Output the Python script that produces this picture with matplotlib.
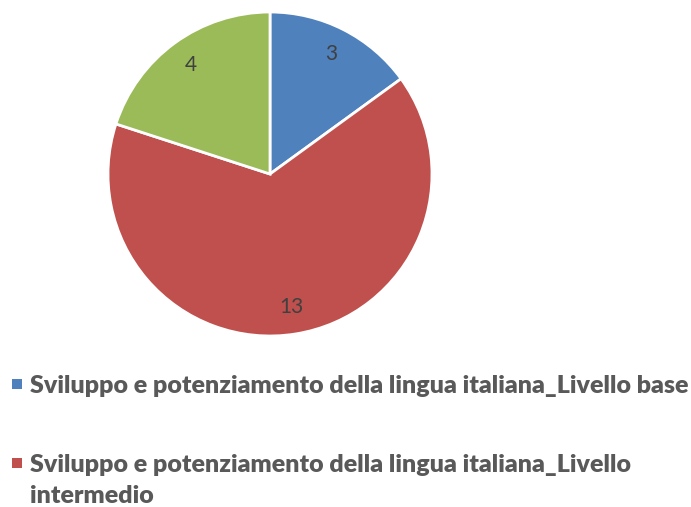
import matplotlib.pyplot as plt
from matplotlib.patches import Rectangle

labels = ["Sviluppo e potenziamento della lingua italiana_Livello base",
          "Sviluppo e potenziamento della lingua italiana_Livello\nintermedio",
          "Sviluppo e potenziamento della lingua italiana_Livello avanzato"]
values = [3, 13, 4]
colors = ["#4F81BD", "#C0504D", "#9BBB59"]

plt.rcParams['font.family'] = ['Lato', 'DejaVu Sans']

fig = plt.figure(figsize=(6.91, 5.07), dpi=100)
ax = fig.add_axes([108 / 691, 1 - 336 / 507, 324 / 691, 324 / 507])
wedges, texts, autotexts = ax.pie(values, colors=colors, startangle=90, counterclock=False,
                                  autopct=lambda p: f"{round(p * sum(values) / 100):d}",
                                  pctdistance=0.83, radius=1,
                                  wedgeprops=dict(edgecolor="white", linewidth=2))
for t in autotexts:
    t.set_color("#404040")
    t.set_fontsize(15)
ax.set_xlim(-1, 1)
ax.set_ylim(-1, 1)
ax.set_aspect("equal")
ax.axis("off")

# legend drawn by hand (only the first two entries fit in the picture)
ypos = [384, 463]
line_step = 31
for lab, col, y in zip(labels[:2], colors[:2], ypos):
    fig.patches.append(Rectangle((12 / 691, 1 - (y + 5) / 507), 10 / 691, 10 / 507,
                                 transform=fig.transFigure, facecolor=col, edgecolor="none"))
    for i, line in enumerate(lab.split("\n")):
        fig.text(30 / 691, 1 - (y + i * line_step) / 507, line, fontsize=18, fontweight="heavy",
                 color="#595959", va="center_baseline", ha="left")

fig.savefig("out.png", dpi=100)
